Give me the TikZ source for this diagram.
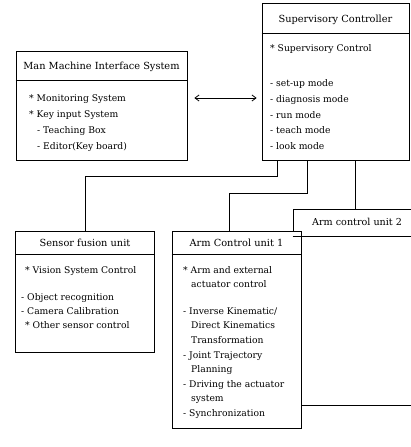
\documentclass[tikz,border=0pt]{standalone}
\usepackage{fontspec}
\setmainfont{DejaVu Serif}
\usetikzlibrary{arrows.meta}
\begin{document}
\begin{tikzpicture}[x=1pt,y=-1pt,
  box/.style={draw, line width=0.8pt, fill=white, rectangle, inner sep=0pt},
  wire/.style={line width=0.8pt},
  ttl/.style={font=\fontsize{9.8}{11}\selectfont, inner sep=0pt, anchor=base},
  txt/.style={font=\fontsize{9.2}{11}\selectfont, inner sep=0pt, anchor=base west}]
\useasboundingbox[fill=white] (0,0) rectangle (411,447);

% boxes
\node[box, minimum width=147pt, minimum height=157pt] (sup) at (335.5,81.5) {};
\node[box, minimum width=171pt, minimum height=109pt] (mmi) at (101.5,105.5) {};
\node[box, minimum width=227pt, minimum height=196pt] (arm2) at (406.5,307) {};
\node[box, minimum width=139pt, minimum height=121pt] (sensor) at (85,291.5) {};
\node[box, minimum width=129pt, minimum height=197pt] (arm1) at (236.5,329.5) {};

% header dividers
\draw[wire] ([yshift=-31pt]sup.north west) -- ([yshift=-31pt]sup.north east);
\draw[wire] ([yshift=-30pt]mmi.north west) -- ([yshift=-30pt]mmi.north east);
\draw[wire] ([yshift=-28pt]arm2.north west) -- ([yshift=-28pt]arm2.north east);
\draw[wire] ([yshift=-24pt]sensor.north west) -- ([yshift=-24pt]sensor.north east);
\draw[wire] ([yshift=-24pt]arm1.north west) -- ([yshift=-24pt]arm1.north east);

% titles
\node[ttl] (supT) at (335.5,22) {Supervisory Controller};
\node[ttl] (mmiT) at (101.5,69) {Man Machine Interface System};
\node[ttl] (senT) at (85,246) {Sensor fusion unit};
\node[ttl] (arm1T) at (236.5,246) {Arm Control unit 1};
\node[txt, font=\fontsize{9.6}{11}\selectfont] (arm2T) at (312,225) {Arm control unit 2};

% supervisory body
\node[txt] (s1) at (270,51) {* Supervisory Control};
\node[txt] (s2) at (270,86) {- set-up mode};
\node[txt] (s3) at (270,102) {- diagnosis mode};
\node[txt] (s4) at (270,118) {- run mode};
\node[txt] (s5) at (270,133) {- teach mode};
\node[txt] (s6) at (270,149) {- look mode};

% MMI body
\node[txt] (m1) at (29,101) {* Monitoring System};
\node[txt] (m2) at (29,117) {* Key input System};
\node[txt] (m3) at (37,133) {- Teaching Box};
\node[txt] (m4) at (37,149) {- Editor(Key board)};

% sensor body
\node[txt] (f1) at (25,273) {* Vision System Control};
\node[txt] (f2) at (21,300) {- Object recognition};
\node[txt] (f3) at (21,314) {- Camera Calibration};
\node[txt] (f4) at (25,328) {* Other sensor control};

% arm 1 body
\node[txt] (a1) at (183,273) {* Arm and external};
\node[txt] (a2) at (191,287) {actuator control};
\node[txt] (a3) at (183,314) {- Inverse Kinematic/};
\node[txt] (a4) at (191,328) {Direct Kinematics};
\node[txt] (a5) at (191,343) {Transformation};
\node[txt] (a6) at (183,358) {- Joint Trajectory};
\node[txt] (a7) at (191,372) {Planning};
\node[txt] (a8) at (183,387) {- Driving the actuator};
\node[txt] (a9) at (191,401) {system};
\node[txt] (a10) at (183,416) {- Synchronization};

% connectors
\coordinate (k1) at (0,176);
\coordinate (k2) at (0,193);
\coordinate (ay) at (0,98);
\coordinate (a1in) at ([xshift=-7.5pt]arm1.north);
\draw[wire] ([xshift=16pt]sup.south west) |- (k1 -| sensor.north) -- (sensor.north);
\draw[wire] ([xshift=46pt]sup.south west) |- (k2 -| a1in) -- (a1in);
\draw[wire] ([xshift=94pt]sup.south west) -- ([xshift=94pt]sup.south west |- arm2.north);
\draw[wire, {Straight Barb[length=4pt,width=6pt]}-{Straight Barb[length=4pt,width=6pt]}]
  ([xshift=7pt]mmi.east |- ay) -- ([xshift=-5pt]sup.west |- ay);
\end{tikzpicture}
\end{document}
